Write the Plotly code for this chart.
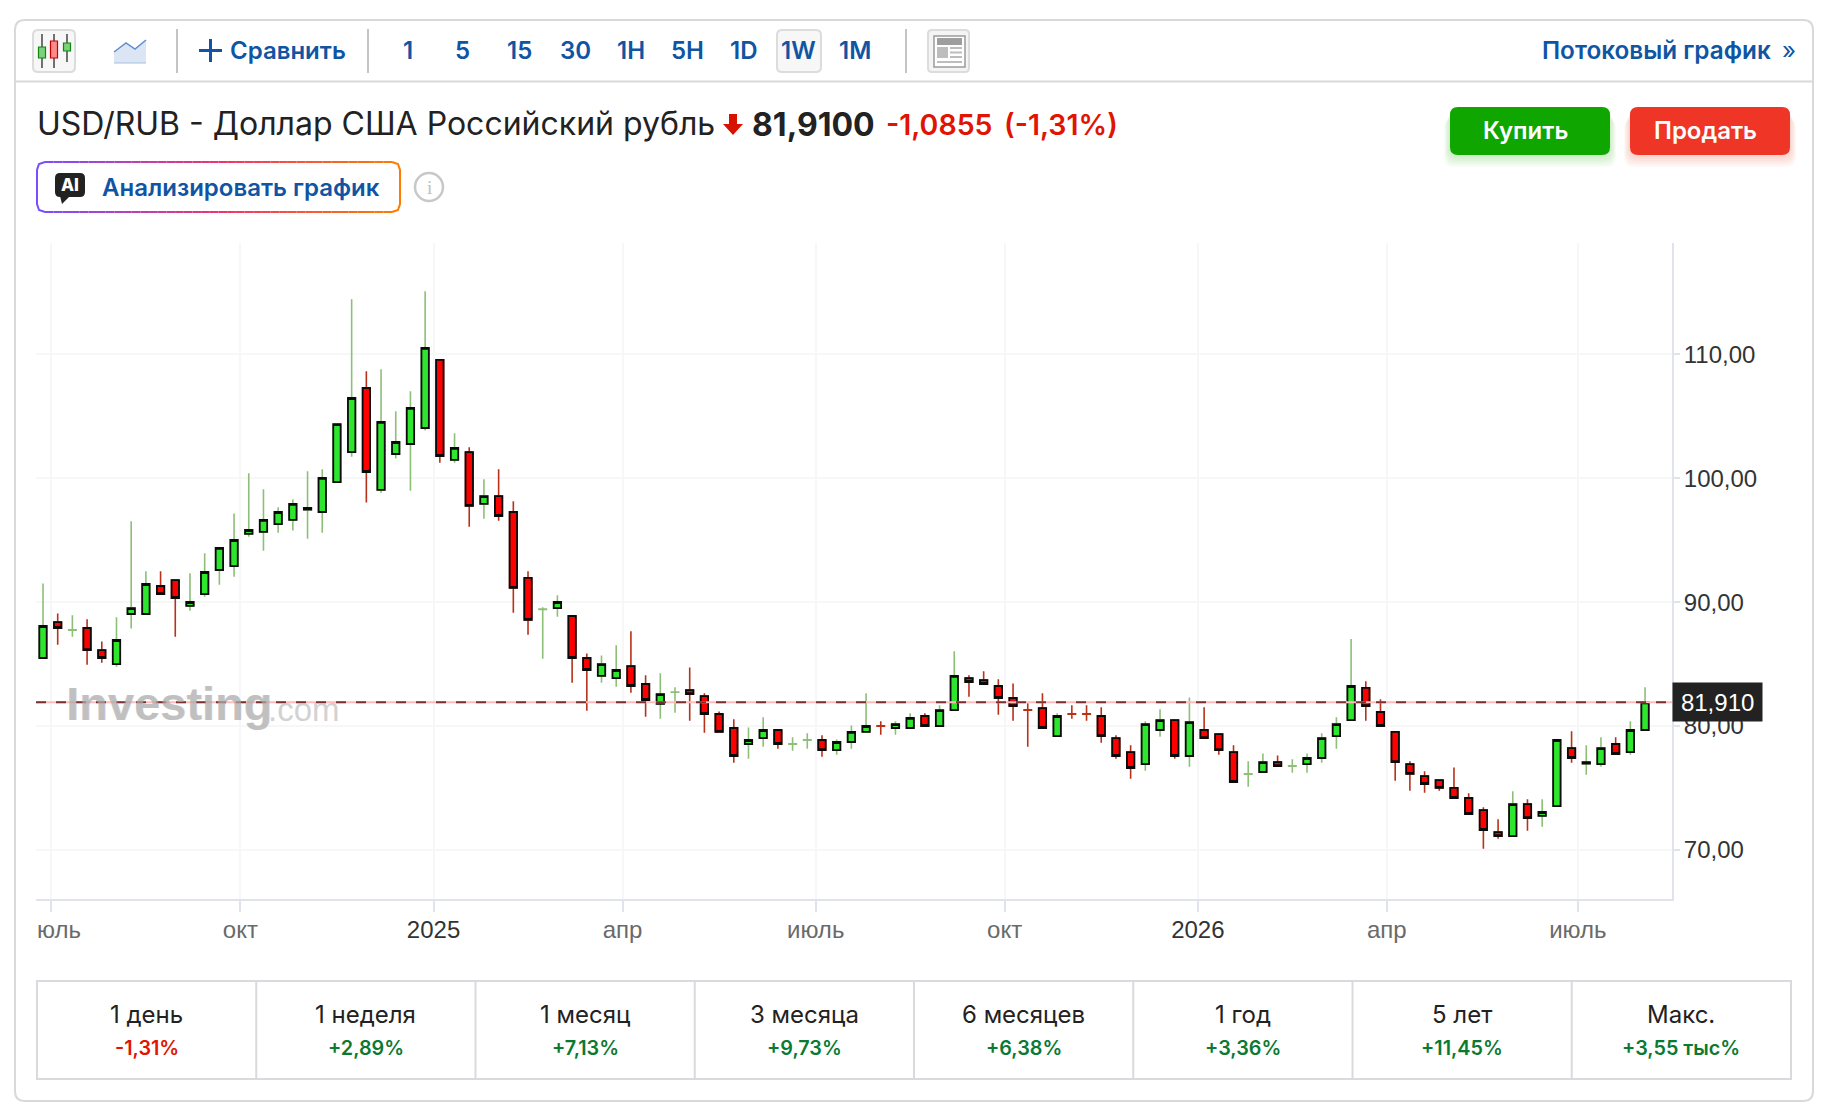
import pandas as pd
import plotly.graph_objects as go

# weekly USD/RUB candles
first_week = '2024-06-27'
opens = [85.49, 88.39, 87.74, 87.91, 86.13, 85.0, 89.04, 89.04, 91.3, 91.78,
         89.69, 90.65, 92.59, 92.91, 95.5, 95.66, 96.3, 96.63, 97.46, 97.27,
         99.69, 102.11, 107.28, 99.05, 101.95, 102.76, 104.05, 109.54, 101.47, 102.11,
         97.92, 98.56, 97.27, 91.95, 89.41, 89.52, 88.88, 85.49, 84.04, 83.87,
         84.84, 83.39, 81.78, 82.73, 82.9, 82.42, 80.97, 79.84, 78.55, 79.03,
         79.68, 78.54, 78.86, 78.87, 78.06, 78.71, 79.52, 80.01, 79.84, 79.84,
         80.81, 80.0, 81.29, 83.87, 83.71, 83.23, 82.26, 81.3, 81.45, 79.19,
         80.98, 80.98, 80.81, 79.03, 77.9, 76.93, 79.68, 80.48, 77.58, 79.68,
         79.35, 77.9, 76.12, 76.29, 77.09, 76.76, 76.93, 77.42, 79.19, 80.48,
         83.07, 81.13, 79.52, 76.93, 75.96, 75.64, 75.0, 74.19, 73.22, 71.44,
         71.12, 73.7, 72.74, 73.54, 78.22, 76.96, 76.93, 78.55, 77.9, 79.68]
highs = [91.51, 89.09, 88.93, 88.61, 86.83, 88.77, 96.52, 92.48, 92.48, 91.78,
         92.32, 93.94, 94.37, 97.16, 100.39, 99.1, 97.65, 98.29, 100.55, 100.72,
         104.37, 114.44, 108.63, 108.79, 105.4, 107.01, 115.08, 109.54, 103.62, 102.49,
         99.91, 100.72, 98.13, 92.48, 89.58, 90.55, 88.88, 85.86, 85.7, 86.51,
         87.64, 84.09, 84.25, 83.12, 84.73, 82.64, 81.18, 80.54, 79.89, 80.7,
         79.68, 79.09, 79.41, 79.25, 78.92, 80.05, 82.64, 80.38, 80.38, 81.02,
         81.02, 81.67, 86.03, 84.09, 84.41, 83.77, 83.44, 81.83, 82.64, 81.02,
         81.67, 81.67, 81.51, 79.25, 78.44, 80.38, 81.35, 80.48, 82.31, 81.51,
         79.35, 78.44, 77.15, 77.79, 77.63, 77.31, 77.79, 79.41, 80.7, 87.02,
         83.61, 82.15, 79.52, 77.15, 76.34, 75.64, 76.66, 74.57, 73.44, 72.47,
         74.73, 74.08, 74.08, 78.87, 79.57, 78.44, 79.09, 79.09, 80.38, 83.12]
lows = [85.49, 86.56, 87.21, 84.95, 85.11, 84.79, 87.86, 89.04, 90.65, 87.21,
        89.31, 90.44, 91.41, 92.05, 95.28, 94.15, 95.6, 95.77, 95.12, 95.6,
        99.69, 101.74, 98.03, 98.83, 101.58, 98.99, 103.84, 101.25, 101.25, 96.09,
        96.73, 96.57, 89.15, 87.37, 85.43, 88.82, 83.5, 81.24, 83.5, 83.17,
        82.69, 80.75, 80.59, 81.08, 80.43, 79.46, 79.52, 77.04, 77.36, 78.33,
        78.17, 78.01, 78.17, 77.52, 77.69, 78.17, 79.52, 79.3, 79.3, 79.84,
        80.0, 80.0, 81.29, 82.37, 83.39, 80.91, 80.43, 78.33, 79.84, 79.19,
        80.59, 80.43, 78.65, 77.36, 75.75, 76.39, 79.14, 77.36, 76.72, 79.03,
        77.69, 75.48, 75.1, 76.29, 76.77, 76.23, 76.23, 77.04, 78.17, 80.48,
        80.43, 80.0, 75.59, 74.78, 74.62, 74.78, 74.19, 72.9, 70.1, 70.91,
        71.12, 71.55, 71.88, 73.54, 77.04, 76.07, 76.72, 77.74, 77.69, 79.68]
closes = [88.07, 87.91, 87.76, 86.13, 85.49, 86.94, 89.52, 91.46, 90.65, 90.33,
          90.01, 92.43, 94.37, 95.01, 95.82, 96.63, 97.27, 97.92, 97.6, 100.02,
          104.37, 106.47, 100.5, 104.54, 102.92, 105.67, 110.51, 101.79, 102.44, 97.76,
          98.56, 96.95, 91.14, 88.56, 89.43, 90.01, 85.49, 84.52, 85.0, 84.52,
          83.23, 82.1, 82.58, 82.75, 82.58, 80.97, 79.52, 77.58, 78.87, 79.68,
          78.55, 78.56, 78.88, 78.06, 78.71, 79.52, 80.0, 79.99, 80.16, 80.65,
          80.0, 81.29, 84.04, 83.55, 83.39, 82.26, 81.61, 81.28, 79.84, 80.81,
          80.96, 80.96, 79.19, 77.58, 76.61, 80.16, 80.48, 77.58, 80.32, 79.03,
          78.06, 75.48, 76.14, 77.09, 76.77, 76.78, 77.42, 79.03, 80.16, 83.23,
          81.61, 80.0, 77.09, 76.13, 75.32, 75.0, 74.19, 72.9, 71.61, 71.12,
          73.7, 72.57, 73.06, 78.87, 77.42, 77.09, 78.22, 77.74, 79.68, 81.91]
# weeks drawn as a bare coloured cross, no black box
doji_weeks = [2, 34, 43, 51, 52, 57, 67, 70, 71, 82, 85]

last_price = 81.91
last_price_text = '81,910'

price_ticks = [70, 80, 90, 100, 110]
# quarter ticks sit a day or two off the calendar date, same as on the chart
date_ticks = ['2024-07-01', '2024-09-29', '2024-12-30', '2025-03-30', '2025-06-30',
              '2025-09-28', '2025-12-29', '2026-03-29', '2026-06-28']
date_labels = ['', 'окт', '<span style="color:#333333">2025</span>', 'апр', 'июль',
               'окт', '<span style="color:#333333">2026</span>', 'апр', 'июль']

periods = ['1 день', '1 неделя', '1 месяц', '3 месяца', '6 месяцев', '1 год', '5 лет', 'Макс.']
period_changes = ['-1,31%', '+2,89%', '+7,13%', '+9,73%', '+6,38%', '+3,36%', '+11,45%', '+3,55 тыс%']
intervals = ['1', '5', '15', '30', '1H', '5H', '1D', '1W', '1M']
interval_x = [408, 463, 519, 575, 631, 687, 743, 798, 855]

# the page has an 8px body margin, everything below is in screenshot pixels
W, H = 1816, 1096
BLUE = '#0f55a3'
RED = '#e01400'
GREEN = '#0a7a33'
LINE = '#d9d9d9'
UI = 'Inter'


def px(x):
    return (x - 8) / W


def py(y):
    return 1 - (y - 8) / H


def round_rect(x0, y0, x1, y1, r):
    a, b, c, d = px(x0), py(y0), px(x1), py(y1)
    rx, ry = r / W, r / H
    return (f'M{a + rx},{b} L{c - rx},{b} Q{c},{b} {c},{b - ry} L{c},{d + ry} Q{c},{d} {c - rx},{d} '
            f'L{a + rx},{d} Q{a},{d} {a},{d + ry} L{a},{b - ry} Q{a},{b} {a + rx},{b} Z')


shapes = []
notes = []


def rect(x0, y0, x1, y1, fill='rgba(0,0,0,0)', line=None, lw=0, r=0):
    shapes.append(dict(type='path', xref='paper', yref='paper', path=round_rect(x0, y0, x1, y1, r),
                       fillcolor=fill, line=dict(color=line or 'rgba(0,0,0,0)', width=lw)))


def seg(x0, y0, x1, y1, color, lw=2):
    shapes.append(dict(type='line', xref='paper', yref='paper', x0=px(x0), x1=px(x1), y0=py(y0), y1=py(y1),
                       line=dict(color=color, width=lw)))


def poly(points, fill=None, line=None, lw=0):
    path = 'M' + ' L'.join(f'{px(a)},{py(b)}' for a, b in points) + (' Z' if fill else '')
    shapes.append(dict(type='path', xref='paper', yref='paper', path=path,
                       fillcolor=fill or 'rgba(0,0,0,0)', line=dict(color=line or 'rgba(0,0,0,0)', width=lw)))


def text(x, y, s, size, color, weight=400, anchor='center', family=UI):
    notes.append(dict(xref='paper', yref='paper', x=px(x), y=py(y), text=s, showarrow=False, xanchor=anchor,
                      yanchor='middle', borderpad=0, font=dict(family=family, size=size, color=color, weight=weight)))


# outer card and toolbar
rect(15, 20, 1813, 1101, line=LINE, lw=2, r=10)
seg(15, 81.5, 1813, 81.5, LINE)
rect(33, 30, 75, 72, fill='#f7f7f7', line='#dcdcdc', lw=2, r=5)
for wx, wy0, wy1, by0, by1, bfill, bline in [(42, 34, 68, 47, 58, '#7ecf7e', '#0c8a0c'),
                                            (54, 34, 68, 41, 58, '#ff8a8a', '#c40000'),
                                            (67, 34, 62, 43, 51, '#7ecf7e', '#0c8a0c')]:
    seg(wx, wy0, wx, wy1, '#444444', 1.5)
    rect(wx - 3.5, by0, wx + 3.5, by1, fill=bfill, line=bline, lw=1.2)
poly([(114, 52), (126, 43), (135, 49), (146, 40), (146, 63), (114, 63)], fill='#dbe5f4')
poly([(114, 52), (126, 43), (135, 49), (146, 40)], line='#5f8fd0', lw=1.5)
seg(114, 63, 146, 63, '#a9bfdd', 1)
for sep in (177, 368, 906):
    seg(sep, 29, sep, 73, '#c4c4c4', 2)
seg(199, 50.5, 222, 50.5, BLUE, 3)
seg(210.5, 39, 210.5, 62, BLUE, 3)
text(229, 50, 'Сравнить', 24, BLUE, 600, 'left')
rect(777, 30, 821, 72, fill='#f7f7f7', line='#dcdcdc', lw=2, r=5)
for label, lx in zip(intervals, interval_x):
    text(lx, 50, label, 24, BLUE, 600)
# news icon
rect(928, 30, 969, 72, fill='#f4f4f4', line='#dcdcdc', lw=2, r=4)
rect(934, 36, 965, 67, fill='#ffffff', line='#9a9a9a', lw=1.5)
rect(937, 38, 962, 45, fill='#9e9e9e')
rect(937, 47, 948, 58, fill='#bdbdbd')
for ly in (48, 52.5, 57):
    seg(950, ly, 962, ly, '#bdbdbd', 2)
seg(937, 62, 962, 62, '#bdbdbd', 2)
text(1772, 50, 'Потоковый график', 24.3, BLUE, 600, 'right')
text(1789, 50, '»', 24, BLUE, 400)

# quote line
text(36, 123, 'USD/RUB - Доллар США Российский рубль', 32, '#222222', 400, 'left')
poly([(729, 114), (737, 114), (737, 124), (743, 124), (733, 135), (723, 124), (729, 124)], fill='#d81200')
text(751, 124, '81,9100', 32, '#222222', 700, 'left')
text(885, 124, '-1,0855', 28.5, RED, 600, 'left')
text(1003, 124, '(-1,31%)', 28.5, RED, 600, 'left')

# buy / sell buttons with a soft shadow
for bx0, bx1, fill, shade, label in [(1450, 1610, '#0fa600', 'rgba(15,166,0,0.035)', 'Купить'),
                                     (1630, 1790, '#ef3526', 'rgba(239,53,38,0.035)', 'Продать')]:
    for grow in range(2, 14, 2):
        rect(bx0 - grow / 2, 107 + grow, bx1 + grow / 2, 155 + grow, fill=shade, r=10)
    rect(bx0, 107, bx1, 155, fill=fill, r=8)
    text((bx0 + bx1) / 2 - 4.5, 131, label, 24, '#ffffff', 600)

# AI button, border runs purple to pink to orange
stops = [(124, 77, 255), (240, 50, 110), (255, 122, 0)]


def border_color(t):
    i = 0 if t < 0.5 else 1
    f = t * 2 - i
    c = [round(stops[i][k] + (stops[i + 1][k] - stops[i][k]) * f) for k in range(3)]
    return f'rgb({c[0]},{c[1]},{c[2]})'


AX0, AX1, AY0, AY1 = 37, 400, 162, 212
poly([(AX0 + 8, AY0), (AX0 + 2, AY0 + 2), (AX0, AY0 + 8), (AX0, AY1 - 8), (AX0 + 2, AY1 - 2), (AX0 + 8, AY1)],
     line=border_color(0), lw=2)
poly([(AX1 - 8, AY0), (AX1 - 2, AY0 + 2), (AX1, AY0 + 8), (AX1, AY1 - 8), (AX1 - 2, AY1 - 2), (AX1 - 8, AY1)],
     line=border_color(1), lw=2)
for k in range(40):
    s0 = AX0 + 8 + (AX1 - AX0 - 16) * k / 40
    s1 = AX0 + 8 + (AX1 - AX0 - 16) * (k + 1) / 40
    for ay in (AY0, AY1):
        seg(s0, ay, s1, ay, border_color((k + 0.5) / 40))
rect(55, 173, 85, 197, fill='#222222', r=5)
poly([(60, 196), (70, 196), (62, 204)], fill='#222222')
text(70, 185, 'AI', 17, '#ffffff', 800)
text(100.5, 187, 'Анализировать график', 24, BLUE, 600, 'left')
shapes.append(dict(type='circle', xref='paper', yref='paper', x0=px(415), x1=px(443), y0=py(173), y1=py(201),
                   line=dict(color='#c8c8c8', width=2.5)))
text(429, 187, 'i', 19, '#c0c0c0', 400, family='Liberation Serif')

# period table
col_w = (1791 - 37) / 8
rect(37, 981, 1791, 1079, line='#d8dade', lw=2)
for i in range(1, 8):
    seg(37 + col_w * i, 981, 37 + col_w * i, 1079, '#d8dade')
for i, (p, ch) in enumerate(zip(periods, period_changes)):
    cx = 37 + col_w * (i + 0.5)
    text(cx, 1014, p, 24, '#222222')
    text(cx, 1048, ch, 19.8, RED if ch.startswith('-') else GREEN, 600)

# clipped first tick label and the watermark
text(36, 929, 'юль', 24, '#6a6a6a', 400, 'left', 'Liberation Sans')
text(64.5, 703, 'Investing', 47, 'rgba(170,170,170,0.6)', 700, 'left', 'Liberation Sans')
notes[-1]['font']['shadow'] = '0.7px 0 0 rgba(170,170,170,0.6)'
text(267, 709, '.com', 33, 'rgba(190,190,190,0.7)', 400, 'left', 'Liberation Sans')

weeks = pd.date_range(first_week, periods=len(closes), freq='7D')
fig = go.Figure()
# first pass: wicks and doji crosses in the pale colours
fig.add_trace(go.Candlestick(
    x=weeks, open=opens, high=highs, low=lows, close=closes, hoverinfo='skip', showlegend=False,
    increasing=dict(line=dict(color='#8dbf78', width=1.6), fillcolor='#8dbf78'),
    decreasing=dict(line=dict(color='#b8321a', width=1.6), fillcolor='#b8321a')))
# second pass: bodies only, black outline
body_open = [None if i in doji_weeks else v for i, v in enumerate(opens)]
body_close = [None if i in doji_weeks else v for i, v in enumerate(closes)]
body_high = [None if o is None else max(o, c) for o, c in zip(body_open, body_close)]
body_low = [None if o is None else min(o, c) for o, c in zip(body_open, body_close)]
fig.add_trace(go.Candlestick(
    x=weeks, open=body_open, high=body_high, low=body_low, close=body_close, hoverinfo='skip', showlegend=False,
    increasing=dict(line=dict(color='#0a0a0a', width=1.8), fillcolor='#2ee62e'),
    decreasing=dict(line=dict(color='#0a0a0a', width=1.8), fillcolor='#ff0000')))

# last price line
shapes.append(dict(type='line', xref='paper', yref='y', x0=px(36), x1=px(1672), y0=last_price, y1=last_price,
                   line=dict(color='#ffbcbc', width=2)))
shapes.append(dict(type='line', xref='paper', yref='y', x0=px(36), x1=px(1672), y0=last_price, y1=last_price,
                   line=dict(color='#7a3030', width=2, dash='10px,10px')))
notes.append(dict(xref='paper', yref='y', x=px(1672), y=last_price, text=last_price_text + '&nbsp;', showarrow=False,
                  xanchor='left', yanchor='middle', width=87, height=36, align='right', bgcolor='#222222',
                  font=dict(family='Liberation Sans', size=24, color='#ffffff')))

fig.update_layout(
    width=W, height=H, margin=dict(l=0, r=0, t=0, b=0), paper_bgcolor='white', plot_bgcolor='white',
    boxmode='overlay', boxgap=0.28, separators=', ', shapes=shapes, annotations=notes, showlegend=False,
    xaxis=dict(domain=[px(36), px(1672)], range=['2024-06-23 16:00', '2026-08-11 20:00'], rangeslider=dict(visible=False),
               tickmode='array', tickvals=date_ticks, ticktext=date_labels, ticks='outside', ticklen=11, tickwidth=1.5,
               tickcolor='#e0e3eb', showline=True, linecolor='#e0e3eb', linewidth=2, gridcolor='#f7f7f7', gridwidth=2,
               zeroline=False, ticklabelstandoff=-2, tickfont=dict(family='Liberation Sans', size=24, color='#6a6a6a')),
    yaxis=dict(domain=[py(898.5), py(243)], range=[66.08, 118.98], side='right', tickmode='array', tickvals=price_ticks,
               tickformat='.2f', ticks='outside', ticklen=6, tickwidth=1.5, tickcolor='#e0e3eb', showline=True,
               linecolor='#e0e3eb', linewidth=2, gridcolor='#f7f7f7', gridwidth=2, zeroline=False,
               ticklabelstandoff=-1, tickfont=dict(family='Liberation Sans', size=24, color='#333333')),
)

fig.write_html("out.html")
